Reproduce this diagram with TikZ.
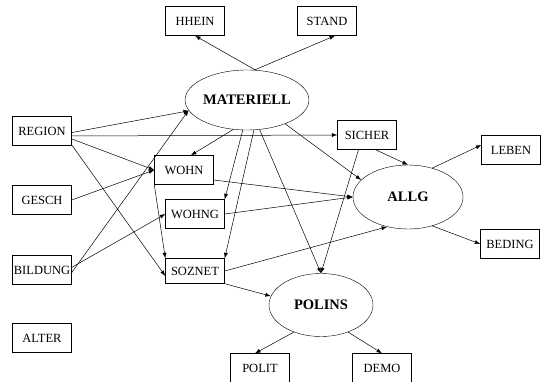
\documentclass[tikz,border=0pt]{standalone}
\usepackage{fontspec}
\setmainfont{Liberation Serif}
\usetikzlibrary{shapes.geometric,arrows.meta}

\begin{document}
\begin{tikzpicture}[x=1pt,y=-1pt,>={Latex[length=5.5pt,width=4pt]}]
	\tikzset{var/.style={draw,rectangle,minimum width=59pt,minimum height=29pt,inner sep=1pt,font=\fontsize{12.5}{14}\selectfont},
		fac/.style={draw,ellipse,inner sep=0pt,font=\fontsize{14.5}{16}\selectfont\bfseries},
		pfad/.style={->,line width=0.5pt}}
	\useasboundingbox (0,0) rectangle (545,382);
	% latente variablen
	\node[fac,minimum width=119pt,minimum height=60pt](MAT) at (247,100) {MATERIELL};
	\node[fac,minimum width=110pt,minimum height=64pt](ALLG) at (408,197) {ALLG};
	\node[fac,minimum width=104pt,minimum height=63pt](POL) at (321,305) {POLINS};
	% manifeste variablen
	\node[var](HHEIN) at (195,21) {HHEIN};
	\node[var](STAND) at (327,21) {STAND};
	\node[var](REGION) at (42,131) {REGION};
	\node[var](GESCH) at (42,200) {GESCH};
	\node[var](BILDUNG) at (42,270) {BILDUNG};
	\node[var](ALTER) at (42,338) {ALTER};
	\node[var](WOHN) at (184,170) {WOHN};
	\node[var](WOHNG) at (195,214) {WOHNG};
	\node[var,minimum height=25pt](SOZNET) at (195,271) {SOZNET};
	\node[var](SICHER) at (367,135) {SICHER};
	\node[var](LEBEN) at (511,150) {LEBEN};
	\node[var](BEDING) at (510,244) {BEDING};
	\node[var](POLIT) at (260,368) {POLIT};
	\node[var](DEMO) at (382,368) {DEMO};

	\draw[pfad] ([xshift=8pt]MAT.north) -- (HHEIN.south);
	\draw[pfad] ([xshift=8pt]MAT.north) -- ([xshift=8pt]STAND.south);
	\draw[pfad] (REGION.-3) -- (MAT);
	\draw[pfad] ([yshift=-5pt]REGION.east) -- (SICHER.west);
	\draw[pfad] (REGION.-15) -- (WOHN.west);
	\draw[pfad] (REGION.-25) -- ([yshift=-5pt]SOZNET.west);
	\draw[pfad] (GESCH.east) -- (WOHN.west);
	\draw[pfad] (BILDUNG.-5) -- (MAT.190);
	\draw[pfad] (BILDUNG.5) -- (WOHNG.west);
	\draw[pfad] (MAT.245) -- (WOHN.65);
	\draw[pfad] (MAT.262) -- (WOHNG.north east);
	\draw[pfad] (MAT.283) -- (SOZNET.north east);
	\draw[pfad] (MAT.293) -- (POL.north);
	\draw[pfad] (MAT.-32) -- (ALLG.160);
	\draw[pfad] (WOHN.south west) -- (SOZNET.north west);
	\draw[pfad] ([yshift=-10pt]WOHN.east) -- (ALLG.west);
	\draw[pfad] (WOHNG.east) -- (ALLG.west);
	\draw[pfad] (SOZNET.east) -- (ALLG.235);
	\draw[pfad] (SOZNET.south east) -- (POL.170);
	\draw[pfad] (SICHER.-60) -- (ALLG.north);
	\draw[pfad] (SICHER.-120) -- (POL.north);
	\draw[pfad] (ALLG.50) -- ([yshift=5pt]LEBEN.west);
	\draw[pfad] (ALLG.-50) -- (BEDING.west);
	\draw[pfad] (POL.225) -- ([xshift=-5pt]POLIT.north);
	\draw[pfad] (POL.-45) -- (DEMO.north);
\end{tikzpicture}
\end{document}
